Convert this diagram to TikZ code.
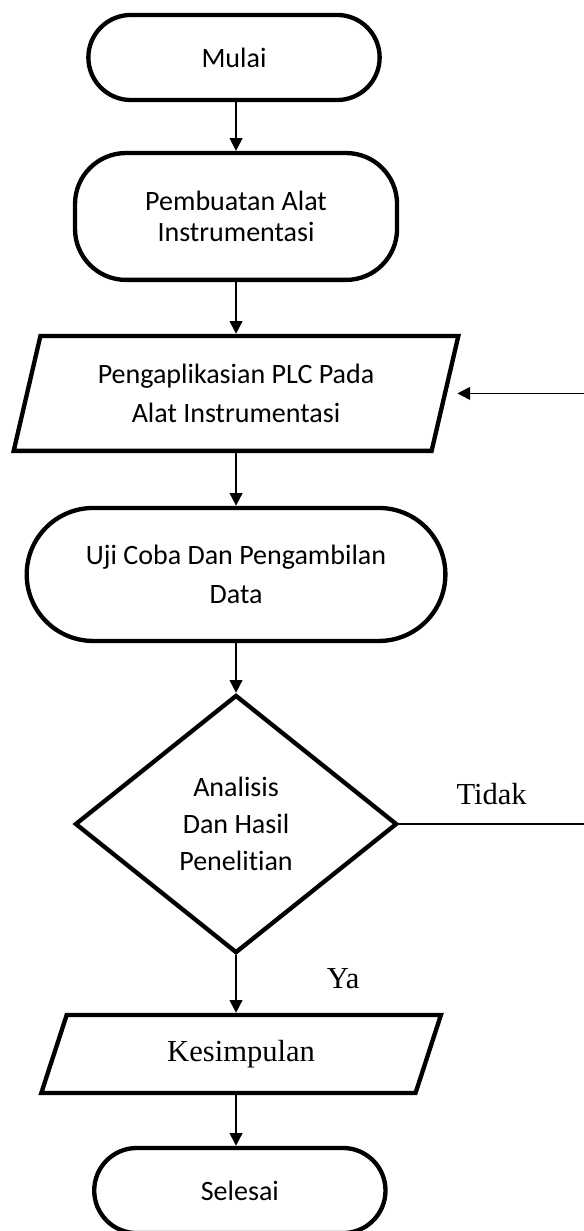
\documentclass[tikz,border=0pt]{standalone}
\usepackage{fontspec}
\setmainfont{Liberation Serif}
\newfontfamily\calibri[Ligatures=NoCommon]{Carlito}
\usetikzlibrary{positioning,shapes.geometric,shapes.misc,arrows.meta}

\begin{document}
\begin{tikzpicture}[x=0.3925pt, y=-0.3925pt,
    terminal/.style={rounded rectangle, draw, line width=1.7pt, align=center, font=\calibri\fontsize{11}{15}\selectfont, minimum width=121pt, minimum height=33.4pt},
    proses/.style={rectangle, rounded corners=20pt, draw, line width=1.7pt, align=center, font=\calibri\fontsize{11}{12.2}\selectfont},
    io/.style={trapezium, trapezium left angle=75, trapezium right angle=105, trapezium stretches=true, draw, line width=1.7pt, align=center},
    keputusan/.style={diamond, draw, line width=1.7pt, inner sep=0pt, align=center, font=\calibri\fontsize{11}{14.5}\selectfont},
    panah/.style={-{Triangle[length=5pt, width=5pt]}, line width=0.7pt},
    ket/.style={font=\fontsize{12}{14}\selectfont}]
    \useasboundingbox (0,0) rectangle (584,1231);
    \node[terminal] (mulai) at (234,57.5) {Mulai};
    \node[proses, below=19.1pt of mulai, xshift=0.8pt, minimum width=126.4pt, minimum height=49.8pt] (buat) {Pembuatan Alat\\Instrumentasi};
    \node[io, below=20.3pt of buat, minimum width=174.7pt, minimum height=45.1pt, font=\calibri\fontsize{11}{15}\selectfont] (plc) {Pengaplikasian PLC Pada\\Alat Instrumentasi};
    \node[terminal, below=20.7pt of plc, minimum width=171pt, minimum height=52.2pt] (uji) {Uji Coba Dan Pengambilan\\Data};
    \node[keputusan, below=19.5pt of uji, minimum width=126.4pt, minimum height=101.3pt] (analisis) {Analisis\\Dan Hasil\\Penelitian};
    \node[io, below=22.6pt of analisis, xshift=2pt, minimum width=157pt, minimum height=30.6pt, font=\fontsize{12}{14}\selectfont] (simpul) {Kesimpulan};
    \node[terminal, below=19.9pt of simpul, xshift=-0.5pt] (selesai) {Selesai};
    % tepi kanan
    \coordinate (rkanan) at (584,0);
    \coordinate (tidak) at (analisis.east -| rkanan);
    \coordinate (balik) at (plc.east -| rkanan);
    \draw[panah] (mulai.south -| buat) -- (buat);
    \draw[panah] (buat) -- (plc);
    \draw[panah] (plc) -- (uji);
    \draw[panah] (uji) -- (analisis);
    \draw[panah] (analisis) -- node[ket, pos=0.4, right=32pt] {Ya} (analisis |- simpul.north);
    \draw[panah] (simpul.south -| analisis) -- (selesai.north -| analisis);
    \draw[line width=0.7pt] (analisis.east) -- node[ket, above=4pt] {Tidak} (tidak);
    \draw[panah] (balik) -- ([xshift=4pt]plc.east);
\end{tikzpicture}
\end{document}
